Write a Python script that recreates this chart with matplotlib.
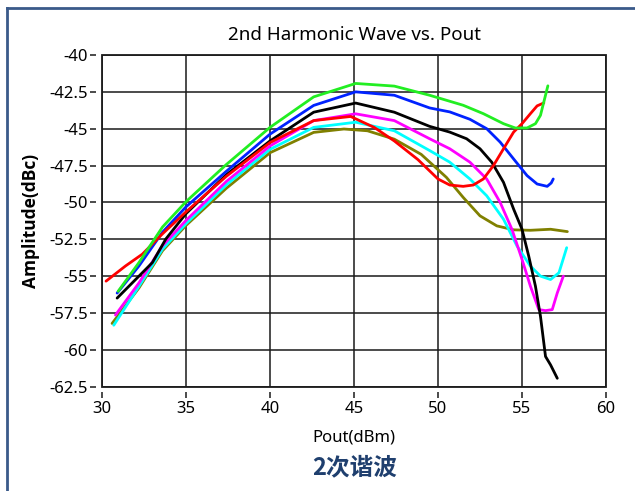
import matplotlib
matplotlib.use("Agg")
import matplotlib.pyplot as plt
from matplotlib.lines import Line2D
from matplotlib.patches import Rectangle

plt.rcParams['font.family'] = ['Noto Sans', 'Noto Sans CJK SC', 'DejaVu Sans']

red_x = [30.24, 31.4, 32.4, 33.6, 35.0, 37.4, 40.0, 42.6, 44.8, 46.2, 47.4, 48.8, 50.0, 50.7, 51.5, 52.1, 52.7, 53.3, 53.9, 54.5, 55.0, 55.5, 55.9, 56.3]
red_y = [-55.34, -54.31, -53.51, -52.13, -50.64, -48.23, -45.94, -44.45, -44.17, -44.91, -45.83, -47.09, -48.41, -48.82, -48.91, -48.82, -48.41, -47.5, -46.36, -45.23, -44.66, -43.98, -43.45, -43.25]

green_x = [30.96, 32.2, 33.6, 35.0, 37.4, 40.0, 42.6, 45.1, 47.4, 49.5, 51.5, 52.7, 53.9, 54.6, 55.3, 55.8, 56.1, 56.3, 56.54]
green_y = [-56.03, -54.08, -51.67, -49.95, -47.43, -44.91, -42.84, -41.93, -42.11, -42.73, -43.41, -43.98, -44.66, -44.95, -44.95, -44.66, -44.09, -43.18, -42.09]

blue_x = [30.9, 32.2, 33.6, 35.0, 37.4, 40.0, 42.6, 45.1, 47.4, 49.5, 50.7, 51.9, 52.9, 53.7, 54.5, 55.3, 55.9, 56.5, 56.74, 56.86]
blue_y = [-56.15, -54.31, -52.02, -50.3, -47.89, -45.37, -43.42, -42.5, -42.73, -43.59, -43.86, -44.36, -45.0, -45.91, -47.05, -48.18, -48.75, -48.91, -48.68, -48.41]

black_x = [30.9, 32.2, 33.0, 33.8, 35.0, 37.4, 40.0, 42.6, 45.1, 47.4, 49.5, 50.7, 51.7, 52.5, 53.2, 53.9, 54.5, 55.0, 55.4, 55.8, 56.1, 56.4, 56.7, 57.1]
black_y = [-56.49, -55.0, -54.08, -52.48, -50.76, -48.12, -45.83, -43.88, -43.26, -43.88, -44.84, -45.23, -45.68, -46.36, -47.27, -48.64, -50.45, -51.82, -53.64, -55.68, -57.73, -60.45, -61.02, -61.93]

magenta_x = [30.8, 32.2, 33.6, 35.0, 37.4, 40.0, 42.6, 45.1, 47.4, 49.5, 50.7, 51.9, 52.9, 53.7, 54.4, 55.0, 55.5, 56.0, 56.4, 56.8, 57.1, 57.46]
magenta_y = [-57.64, -55.46, -52.94, -51.22, -48.58, -46.17, -44.45, -43.99, -44.45, -45.68, -46.36, -47.27, -48.41, -50.0, -51.82, -53.86, -55.68, -57.27, -57.34, -57.27, -56.14, -55.0]

cyan_x = [30.7, 32.2, 33.6, 35.0, 37.4, 40.0, 42.6, 45.1, 47.4, 49.5, 50.7, 51.9, 52.9, 53.9, 54.7, 55.5, 56.1, 56.7, 57.2, 57.66]
cyan_y = [-58.33, -55.69, -53.17, -51.44, -48.81, -46.4, -44.91, -44.56, -45.14, -46.48, -47.27, -48.41, -49.55, -51.14, -52.95, -54.32, -55.0, -55.23, -54.77, -53.07]

olive_x = [30.6, 32.2, 33.6, 35.0, 37.4, 40.0, 42.6, 44.4, 45.8, 47.4, 49.0, 50.5, 51.5, 52.5, 53.5, 54.5, 55.5, 56.7, 57.7]
olive_y = [-58.21, -55.8, -53.28, -51.56, -49.04, -46.63, -45.25, -45.02, -45.14, -45.71, -46.74, -48.3, -49.66, -50.91, -51.59, -51.86, -51.89, -51.82, -51.98]

x_ticks = [30, 35, 40, 45, 50, 55, 60]
y_ticks = [-40, -42.5, -45, -47.5, -50, -52.5, -55, -57.5, -60, -62.5]
y_tick_labels = ['-40', '-42.5', '-45', '-47.5', '-50', '-52.5', '-55', '-57.5', '-60', '-62.5']

fig = plt.figure(figsize=(6.35, 4.91), dpi=100)
ax = fig.add_axes([102/635, 1 - 386.7/491, (606 - 102)/635, (386.7 - 55)/491])

series = [
    (olive_x, olive_y, '#808000'),
    (cyan_x, cyan_y, '#00ffff'),
    (magenta_x, magenta_y, '#ff00ff'),
    (black_x, black_y, '#000000'),
    (blue_x, blue_y, '#0022ff'),
    (red_x, red_y, '#ff0000'),
    (green_x, green_y, '#22ee22'),
]
for xs, ys, c in series:
    ax.plot(xs, ys, color=c, lw=2.0, solid_capstyle='round', solid_joinstyle='round', zorder=3)

ax.set_xlim(30, 60)
ax.set_ylim(-62.5, -40)
ax.set_xticks(x_ticks)
ax.set_yticks(y_ticks)
ax.set_yticklabels(y_tick_labels)
ax.grid(True, color='#1a1a1a', lw=1.1, zorder=1)
ax.set_axisbelow(True)

for s in ['top', 'right']:
    ax.spines[s].set_visible(False)
for s in ['left', 'bottom']:
    ax.spines[s].set_position(('outward', 4))
    ax.spines[s].set_visible(False)
ax.add_patch(Rectangle((0, 0), 1, 1, transform=ax.transAxes, fill=False,
                       edgecolor='#1a1a1a', lw=1.3, zorder=5, clip_on=False))
ax.tick_params(axis='both', direction='out', length=4, width=1.1, color='#1a1a1a',
               labelsize=12, pad=2)

ax.set_title('2nd Harmonic Wave vs. Pout', fontsize=13.5, pad=11)
ax.set_xlabel('Pout(dBm)', fontsize=12, labelpad=9)
ax.set_ylabel('Amplitude(dBc)', fontsize=12.5, fontweight='bold', labelpad=7,
              family=['Open Sans', 'Lato', 'DejaVu Sans'])

fig.text(355/635, 1 - 467/491, '2次谐波', ha='center', va='center', fontsize=17,
         fontweight='bold', color='#1f3f6e', family=['Noto Sans CJK SC', 'DejaVu Sans'])

fig.add_artist(Line2D([7/635, 1], [1 - 8/491, 1 - 8/491], color='#3a5a8a', lw=2.0))
fig.add_artist(Line2D([7/635, 7/635], [0, 1 - 8/491], color='#3a5a8a', lw=2.0))

fig.savefig('out.png', dpi=100)
